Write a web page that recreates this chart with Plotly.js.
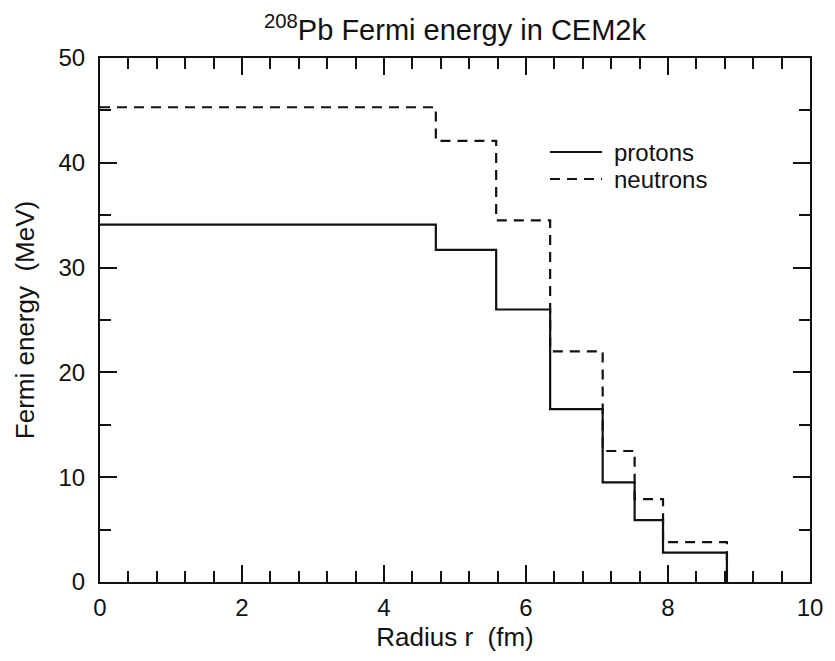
<!DOCTYPE html>
<html>
<head>
<meta charset="utf-8">
<script src="https://cdn.plot.ly/plotly-3.0.1.min.js"></script>
<style>html,body{margin:0;padding:0;background:#fff;}#chart{width:835px;height:661px;}</style>
</head>
<body>
<div id="chart"></div>
<script>
// Step edges in radius (fm) and Fermi energies (MeV)
const radiusEdges = [0, 4.73, 5.58, 6.34, 7.08, 7.53, 7.93, 8.83, 8.83];
const protonEnergy = [34.1, 31.7, 26.0, 16.5, 9.5, 5.9, 2.8, 2.8, 0];
const neutronEnergy = [45.3, 42.1, 34.5, 22.0, 12.5, 7.9, 3.8, 3.8, 0];
const seriesNames = ["protons", "neutrons"];
const xTickVals = [0, 2, 4, 6, 8, 10];
const yTickVals = [0, 10, 20, 30, 40, 50];

const font = "Liberation Sans, Arial, Helvetica, sans-serif";
const ink = "#111";
const dashStyle = "10px,7px";

const traces = [
  {x: radiusEdges, y: protonEnergy, name: seriesNames[0], mode: "lines", showlegend: false,
   line: {shape: "hv", color: ink, width: 2.2}},
  {x: radiusEdges, y: neutronEnergy, name: seriesNames[1], mode: "lines", showlegend: false,
   line: {shape: "hv", color: ink, width: 2.2, dash: dashStyle}}
];

const axisCommon = {
  showgrid: false, zeroline: false, showline: true, linecolor: ink, linewidth: 2,
  mirror: "allticks", ticks: "inside", ticklen: 17, tickwidth: 2, tickcolor: ink,
  tickfont: {family: font, size: 24, color: ink}
};

// manual legend (layout only): two sample lines + labels, in paper coordinates
const legX0 = (550 - 100) / 710, legX1 = (602 - 100) / 710, legTextX = (612 - 100) / 710;
const legY = [(582 - 152) / 524, (582 - 179) / 524];
const legendShapes = seriesNames.map((n, i) => ({
  type: "line", xref: "paper", yref: "paper", x0: legX0, x1: legX1, y0: legY[i], y1: legY[i],
  line: {color: ink, width: 2.2, dash: i === 0 ? "solid" : dashStyle}
}));
const legendTexts = seriesNames.map((n, i) => ({
  text: n, xref: "paper", yref: "paper", x: legTextX, y: legY[i], xanchor: "left", yanchor: "middle",
  showarrow: false, font: {family: font, size: 24, color: ink}
}));

const layout = {
  width: 835, height: 661,
  margin: {l: 100, r: 25, t: 58, b: 79},
  paper_bgcolor: "#fff", plot_bgcolor: "#fff",
  title: {text: "<sup>208</sup>Pb Fermi energy in CEM2k", font: {family: font, size: 29, color: ink},
          x: 455 / 835, xanchor: "center", y: 0.955, yanchor: "middle", yref: "container"},
  xaxis: Object.assign({}, axisCommon, {
    range: [0, 10], tickvals: xTickVals, ticktext: xTickVals.map(String),
    minor: {dtick: 0.4, tick0: 0, ticks: "inside", ticklen: 11, tickwidth: 2, tickcolor: ink},
    ticklabelstandoff: 3,
    title: {text: "Radius r\u00a0 (fm)", font: {family: font, size: 26, color: ink}, standoff: 8}
  }),
  yaxis: Object.assign({}, axisCommon, {
    range: [0, 50], tickvals: yTickVals, ticktext: yTickVals.map(String),
    minor: {dtick: 5, tick0: 0, ticks: "inside", ticklen: 11, tickwidth: 2, tickcolor: ink},
    ticklabelstandoff: 8,
    title: {text: "Fermi energy\u00a0 (MeV)", font: {family: font, size: 26, color: ink}, standoff: 16}
  }),
  showlegend: false,
  shapes: legendShapes,
  annotations: legendTexts
};

Plotly.newPlot("chart", traces, layout, {staticPlot: true, displayModeBar: false});
</script>
</body>
</html>
